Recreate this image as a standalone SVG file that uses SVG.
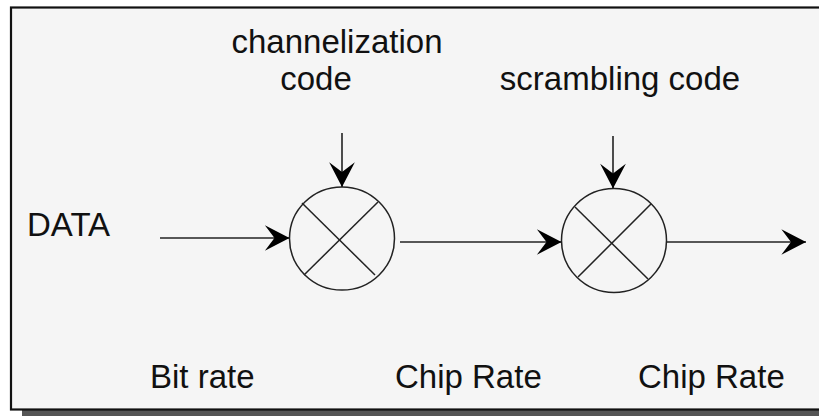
<svg xmlns="http://www.w3.org/2000/svg" width="819" height="416" viewBox="0 0 819 416">
<style>
.t{font-family:"Liberation Sans",Arial,sans-serif;font-size:33px;fill:#111;}
.ln{stroke:#222;stroke-width:1.6;fill:none;}
.node{stroke:#222;stroke-width:1.5;fill:none;}
</style>
<defs>
<marker id="ah" markerUnits="userSpaceOnUse" markerWidth="30" markerHeight="30" viewBox="-26 -13 28 26" refX="0" refY="0" orient="auto">
<path d="M-23,-12 L0,0 L-23,12 L-14,0 Z" fill="#000"/>
</marker>
</defs>
<rect x="0" y="0" width="819" height="416" fill="#ffffff"/>
<rect x="22" y="410" width="800" height="6" fill="#555"/>
<rect x="11" y="7.5" width="815" height="402" fill="#f5f5f5" stroke="#111" stroke-width="2.2"/>
<g id="labels">
<text class="t" x="337" y="53" text-anchor="middle">channelization</text>
<text class="t" x="316" y="90" text-anchor="middle">code</text>
<text class="t" x="620" y="90" text-anchor="middle">scrambling code</text>
<text class="t" x="27" y="236">DATA</text>
<text class="t" x="150" y="388">Bit rate</text>
<text class="t" x="395" y="388">Chip Rate</text>
<text class="t" x="638" y="388">Chip Rate</text>
</g>
<g id="mixer1">
<ellipse class="node" cx="342" cy="238.5" rx="52.5" ry="51.5"/>
<line class="node" x1="302" y1="203" x2="375" y2="275"/>
<line class="node" x1="378" y1="202" x2="304" y2="275"/>
</g>
<g id="mixer2">
<ellipse class="node" cx="614" cy="240.5" rx="52.5" ry="52"/>
<line class="node" x1="575" y1="207" x2="648" y2="279"/>
<line class="node" x1="651" y1="204" x2="578" y2="277"/>
</g>
<g id="connectors">
<line class="ln" x1="342" y1="133" x2="342" y2="187" marker-end="url(#ah)"/>
<line class="ln" x1="613" y1="136" x2="613" y2="188.5" marker-end="url(#ah)"/>
<line class="ln" x1="160" y1="238" x2="289.5" y2="238" marker-end="url(#ah)"/>
<line class="ln" x1="400" y1="242" x2="561.5" y2="242" marker-end="url(#ah)"/>
<line class="ln" x1="667" y1="242" x2="806" y2="242" marker-end="url(#ah)"/>
</g>
</svg>
